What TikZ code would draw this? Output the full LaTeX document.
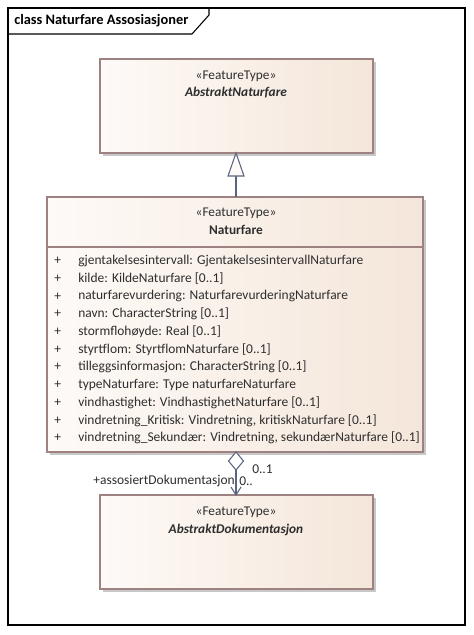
\documentclass[tikz,border=0pt]{standalone}
\usepackage{fontspec}
\setmainfont{Carlito}
\usetikzlibrary{arrows.meta,shapes.geometric,fadings}
\definecolor{boxline}{HTML}{9E8282}
\definecolor{boxL}{HTML}{FEFAF7}
\definecolor{boxR}{HTML}{F4E6DA}
\definecolor{shadowc}{HTML}{C8C8C8}
\definecolor{conn}{HTML}{5B6580}
\definecolor{txt}{HTML}{2E2E2E}
\tikzset{
  umlbox/.style={draw=boxline, line width=0.9pt, left color=boxL, right color=boxR, shading angle=90},
  stereo/.style={font=\fontsize{10}{11}\selectfont, text=txt, inner sep=0pt},
  cname/.style={font=\fontsize{10}{11}\selectfont\bfseries, text=txt, inner sep=0pt},
  attr/.style={font=\fontsize{10.1}{11}\selectfont, text=txt, inner sep=0pt, anchor=west},
  lbl/.style={font=\fontsize{10.1}{11}\selectfont, text=txt, inner sep=0pt},
  connline/.style={draw=conn, line width=0.8pt},
}
\begin{document}
\begin{tikzpicture}[x=0.75pt,y=-0.75pt]
\useasboundingbox (0,0) rectangle (474,635);
\fill[white] (0,0) rectangle (474,635);
% frame
\draw[black, line width=0.8pt] (8,8) rectangle (465,625);
\draw[black, line width=0.8pt] (8,34) -- (192,34) -- (209,15) -- (209,8);
\node[anchor=west, font=\fontsize{10.8}{12}\selectfont\bfseries, inner sep=0pt] (title) at (14,21) {class Naturfare Assosiasjoner};

% AbstraktNaturfare
\fill[shadowc] (103,62) rectangle (376,156);
\path[umlbox] (100,59) rectangle (373,153);
\coordinate (anTop) at (236,59);
\coordinate (anBot) at (236,153);
\node[stereo] (anS) at (236,76) {«FeatureType»};
\node[cname, font=\fontsize{10}{11}\selectfont\bfseries\itshape] (anN) at (236,93) {AbstraktNaturfare};

% Naturfare
\fill[shadowc] (50,200) rectangle (426,455);
\path[umlbox] (47,197) rectangle (423,452);
\draw[boxline, line width=0.9pt] (47,247) -- (423,247);
\coordinate (nTop) at (236,197);
\coordinate (nBot) at (236,452);
\node[stereo] (nS) at (236,213) {«FeatureType»};
\node[cname] (nN) at (236,230) {Naturfare};
\foreach \i/\t in {0/{gjentakelsesintervall: GjentakelsesintervallNaturfare},
  1/{kilde: KildeNaturfare [0..1]},
  2/{naturfarevurdering: NaturfarevurderingNaturfare},
  3/{navn: CharacterString [0..1]},
  4/{stormflohøyde: Real [0..1]},
  5/{styrtflom: StyrtflomNaturfare [0..1]},
  6/{tilleggsinformasjon: CharacterString [0..1]},
  7/{typeNaturfare: Type naturfareNaturfare},
  8/{vindhastighet: VindhastighetNaturfare [0..1]},
  9/{vindretning\_Kritisk: Vindretning, kritiskNaturfare [0..1]},
  10/{vindretning\_Sekundær: Vindretning, sekundærNaturfare [0..1]}}{
  \node[attr] (p\i) at (54,261+17.7*\i) {+};
  \node[attr] (a\i) at (78,261+17.7*\i) {\t};
}

% AbstraktDokumentasjon
\fill[shadowc] (103,498) rectangle (376,592);
\path[umlbox] (100,495) rectangle (373,589);
\coordinate (adTop) at (236,495);
\node[stereo] (adS) at (236,512) {«FeatureType»};
\node[cname, font=\fontsize{10}{11}\selectfont\bfseries\itshape] (adN) at (236,530) {AbstraktDokumentasjon};

% generalization
\coordinate (triBase) at (236,176);
\draw[connline] (nTop) -- (triBase);
\draw[connline, fill=boxL] (anBot) -- (244,176) -- (228,176) -- cycle;

% aggregation
\coordinate (dmBot) at (236,470);
\draw[connline] (dmBot) -- (adTop);
\draw[connline, fill=white] (nBot) -- (243.5,461) -- (236,470) -- (228.5,461) -- cycle;
\draw[connline] (231,487) -- (adTop) -- (241,487);
\node[lbl, anchor=west] (m1) at (252,469) {0..1};
\node[lbl, anchor=east] (r1) at (235,481) {+assosiertDokumentasjon};
\node[lbl, anchor=west] (m2) at (239,481) {0..};
\end{tikzpicture}
\end{document}
